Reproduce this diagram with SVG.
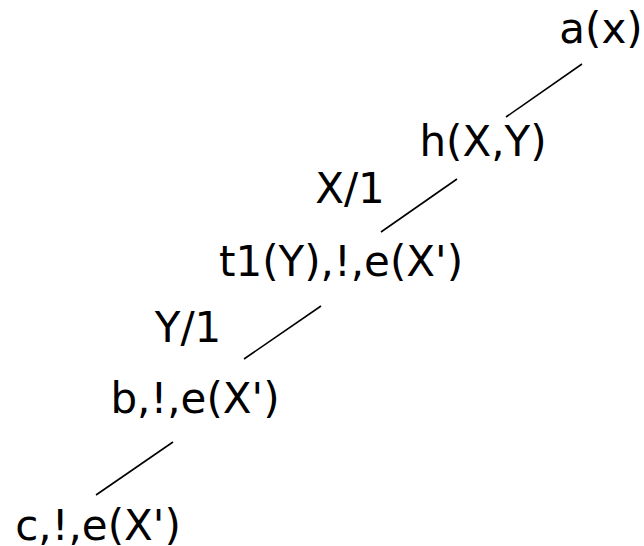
<svg xmlns="http://www.w3.org/2000/svg" width="644" height="546" viewBox="0 0 644 546">
<style>
text{font-family:"DejaVu Sans",sans-serif;font-size:42px;fill:#000;text-anchor:middle}
line{stroke:#000;stroke-width:1.6}
</style>
<rect width="644" height="546" fill="#fff"/>
<g id="connectors">
<line x1="582" y1="64" x2="506" y2="117"/>
<line x1="457" y1="179" x2="381" y2="232"/>
<line x1="321" y1="306" x2="244" y2="359"/>
<line x1="173" y1="442" x2="96" y2="495"/>
</g>
<g id="n1"><text x="601" y="43">a(x)</text></g>
<g id="n2"><text x="483" y="156">h(X,Y)</text></g>
<g id="l1"><text x="350" y="203">X/1</text></g>
<g id="n3"><text x="341" y="276">t1(Y),!,e(X')</text></g>
<g id="l2"><text x="188" y="342">Y/1</text></g>
<g id="n4"><text x="195" y="413">b,!,e(X')</text></g>
<g id="n5"><text x="98" y="540">c,!,e(X')</text></g>
</svg>
